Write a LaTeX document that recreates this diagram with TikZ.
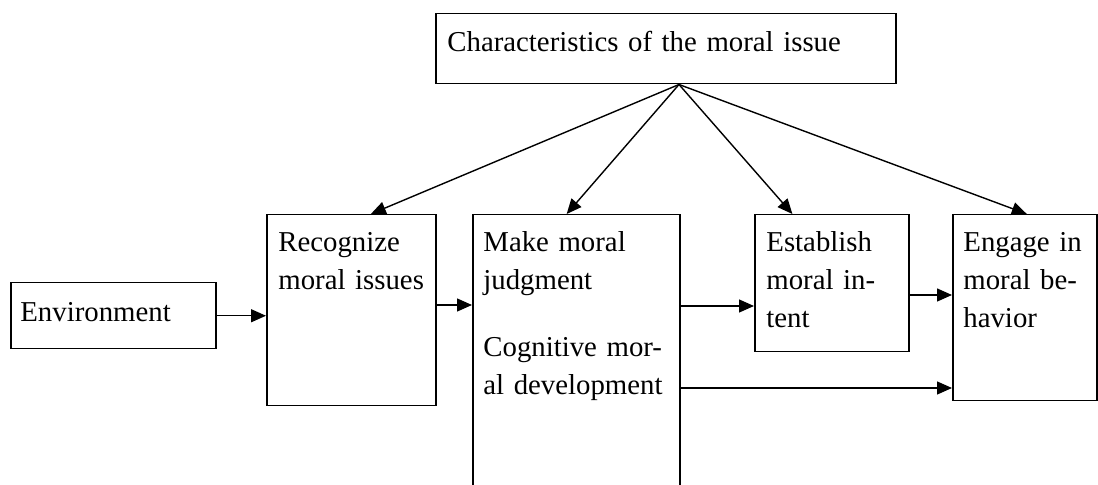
\documentclass[tikz,border=0pt]{standalone}
\usepackage{fontspec}
\setmainfont{Liberation Serif}
\usetikzlibrary{calc,arrows.meta}
\tikzset{
    block/.style = {draw, rectangle, line width=0.75pt, inner sep=0pt, anchor=north west},
    caption/.style = {anchor=base west, inner sep=0pt, align=left, text width=8cm,
        font=\fontsize{14.4pt}{19pt}\selectfont},
    arrow/.style = {draw, line width=0.7pt, -{Triangle[length=7.5pt,width=6.5pt]}}
}
\begin{document}
\begin{tikzpicture}[x=0.5pt,y=-0.5pt]
        \useasboundingbox (0,0) rectangle (1098,485);
        \clip (0,0) rectangle (1098,485);
        % boxes
        \node [block, minimum width=230pt, minimum height=35pt] (issue) at (435,13) {};
        \node [block, minimum width=102.5pt, minimum height=33pt] (env) at (10,282) {};
        \node [block, minimum width=84.5pt, minimum height=95.5pt] (recog) at (266,214) {};
        \node [block, minimum width=103.5pt, minimum height=140pt] (judge) at (472,214) {};
        \node [block, minimum width=77pt, minimum height=68.5pt] (intent) at (754,214) {};
        \node [block, minimum width=72pt, minimum height=93pt] (behav) at (952,214) {};
        % texts
        \node [caption] (issuetxt) at ($(issue.north west)+(12,39)$) {Characteristics of the moral issue};
        \node [caption] (envtxt) at ($(env.north west)+(10,40)$) {Environment};
        \node [caption] (recogtxt) at ($(recog.north west)+(12,38)$) {Recognize\\moral issues};
        \node [caption] (judgetxt) at ($(judge.north west)+(11,38)$) {Make moral\\judgment\\[14.5pt]Cognitive mor-\\al development};
        \node [caption] (intenttxt) at ($(intent.north west)+(12,38)$) {Establish\\moral in-\\tent};
        \node [caption] (behavtxt) at ($(behav.north west)+(11,38)$) {Engage in\\moral be-\\havior};
        % arrows from the issue
        \coordinate (apex) at ($(issue.south west)+(244,0)$);
        \draw[arrow] (apex) -- ($(recog.north west)!0.615!(recog.north east)$);
        \draw[arrow] (apex) -- ($(judge.north west)!0.454!(judge.north east)$);
        \draw[arrow] (apex) -- ($(intent.north west)!0.247!(intent.north east)$);
        \draw[arrow] (apex) -- ($(behav.north west)!0.514!(behav.north east)$);
        % process arrows
        \draw[arrow] (env.east) -- (env.east -| recog.west);
        \draw[arrow] ($(recog.north east)+(0,91)$) coordinate (a1) -- (a1 -| judge.west);
        \draw[arrow] ($(judge.north east)+(0,92)$) coordinate (a2) -- (a2 -| intent.west);
        \draw[arrow] ($(intent.north east)+(0,81)$) coordinate (a3) -- (a3 -| behav.west);
        \draw[arrow] ($(judge.north east)+(0,174)$) coordinate (a4) -- (a4 -| behav.west);
    \end{tikzpicture}
\end{document}
